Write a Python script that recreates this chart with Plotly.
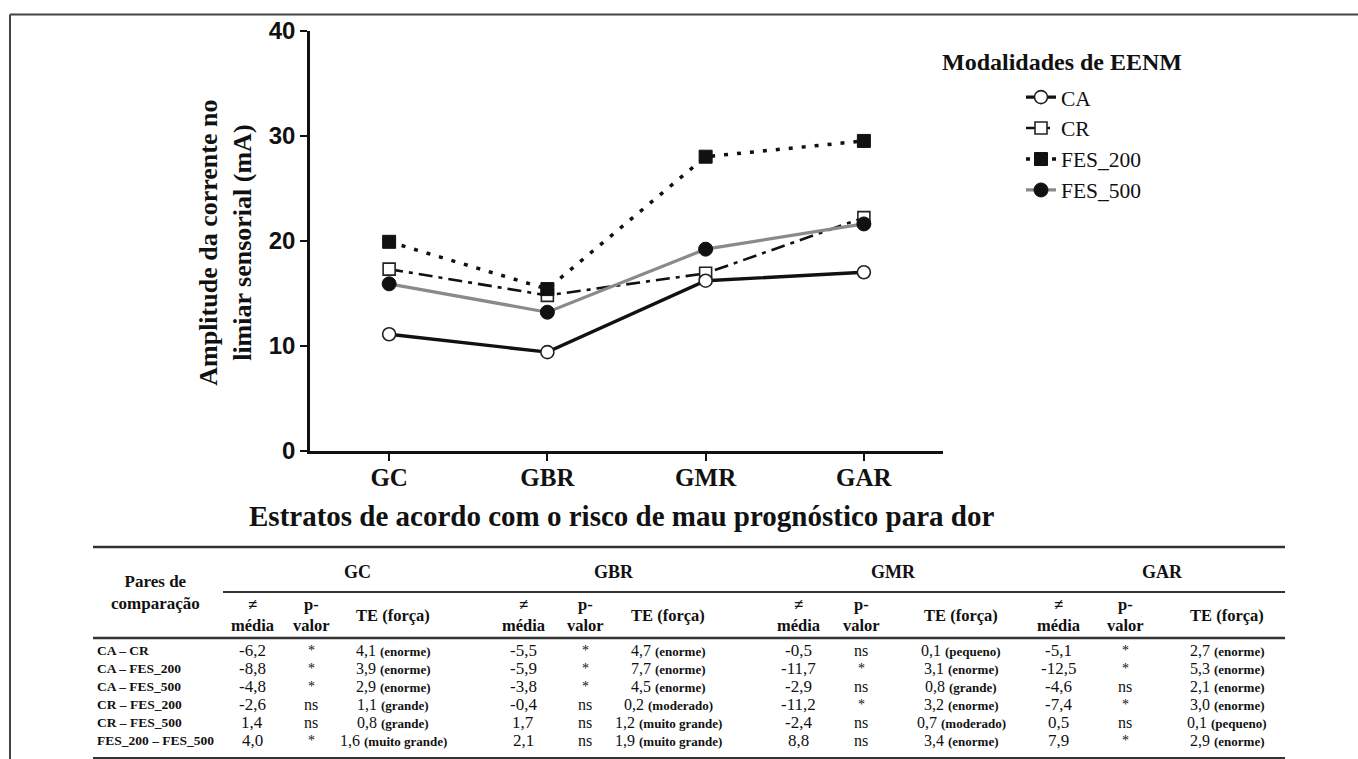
import plotly.graph_objects as go

W, H = 1358, 786

# ---------------- chart data ----------------
categories = ["GC", "GBR", "GMR", "GAR"]
ca_values = [11.1, 9.4, 16.2, 17.0]
cr_values = [17.3, 14.8, 16.9, 22.2]
fes200_values = [19.9, 15.4, 28.0, 29.5]
fes500_values = [15.9, 13.2, 19.2, 21.6]
y_ticks = [0, 10, 20, 30, 40]

# ---------------- table data ----------------
pairs = ["CA – CR", "CA – FES_200", "CA – FES_500", "CR – FES_200", "CR – FES_500", "FES_200 – FES_500"]
groups = ["GC", "GBR", "GMR", "GAR"]
diff_GC = ["-6,2", "-8,8", "-4,8", "-2,6", "1,4", "4,0"]
p_GC = ["*", "*", "*", "ns", "ns", "*"]
te_GC = ["4,1", "3,9", "2,9", "1,1", "0,8", "1,6"]
force_GC = ["enorme", "enorme", "enorme", "grande", "grande", "muito grande"]
diff_GBR = ["-5,5", "-5,9", "-3,8", "-0,4", "1,7", "2,1"]
p_GBR = ["*", "*", "*", "ns", "ns", "ns"]
te_GBR = ["4,7", "7,7", "4,5", "0,2", "1,2", "1,9"]
force_GBR = ["enorme", "enorme", "enorme", "moderado", "muito grande", "muito grande"]
diff_GMR = ["-0,5", "-11,7", "-2,9", "-11,2", "-2,4", "8,8"]
p_GMR = ["ns", "*", "ns", "*", "ns", "ns"]
te_GMR = ["0,1", "3,1", "0,8", "3,2", "0,7", "3,4"]
force_GMR = ["pequeno", "enorme", "grande", "enorme", "moderado", "enorme"]
diff_GAR = ["-5,1", "-12,5", "-4,6", "-7,4", "0,5", "7,9"]
p_GAR = ["*", "*", "ns", "*", "ns", "*"]
te_GAR = ["2,7", "5,3", "2,1", "3,0", "0,1", "2,9"]
force_GAR = ["enorme", "enorme", "enorme", "enorme", "pequeno", "enorme"]

table_cols = {
    "GC": (diff_GC, p_GC, te_GC, force_GC),
    "GBR": (diff_GBR, p_GBR, te_GBR, force_GBR),
    "GMR": (diff_GMR, p_GMR, te_GMR, force_GMR),
    "GAR": (diff_GAR, p_GAR, te_GAR, force_GAR),
}

SERIF = "Liberation Serif, Times New Roman, serif"
SANS = "Liberation Sans, Arial, sans-serif"

# the photographed page maps page row d to picture row 13.4 + 0.965 * d
OFF, SC = 13.4, 0.965


def px(x):
    return x / W


def py(r):
    d = max((r - OFF) / SC, 0.5)
    return 1 - d / H


fig = go.Figure()

fig.add_trace(go.Scatter(
    x=categories, y=cr_values, name="CR", mode="lines+markers",
    line=dict(color="#111111", width=2.6, dash="14px,6px,4px,6px"),
    marker=dict(symbol="square", size=12, color="white", line=dict(color="#222222", width=1.6)),
    legendrank=2))
fig.add_trace(go.Scatter(
    x=categories, y=fes200_values, name="FES_200", mode="lines+markers",
    line=dict(color="#111111", width=3.5, dash="4px,9px"),
    marker=dict(symbol="square", size=13, color="#111111", line=dict(color="#111111", width=1)),
    legendrank=3))
fig.add_trace(go.Scatter(
    x=categories, y=fes500_values, name="FES_500", mode="lines+markers",
    line=dict(color="#8a8a8a", width=3.2),
    marker=dict(symbol="circle", size=14, color="#111111", line=dict(color="#111111", width=1)),
    legendrank=4))
fig.add_trace(go.Scatter(
    x=categories, y=ca_values, name="CA", mode="lines+markers",
    line=dict(color="#111111", width=3.4),
    marker=dict(symbol="circle", size=13, color="white", line=dict(color="#222222", width=1.6)),
    legendrank=1))

annotations = []

# axis titles
annotations.append(dict(
    x=px(226), y=py(242), xref="paper", yref="paper", showarrow=False,
    text="Amplitude da corrente no<br>limiar sensorial (mA)", textangle=-90,
    font=dict(family=SERIF, size=26, color="#111111", weight="bold"),
    xanchor="center", yanchor="middle"))
annotations.append(dict(
    x=px(621), y=py(515.5), xref="paper", yref="paper", showarrow=False,
    text="Estratos de acordo com o risco de mau prognóstico para dor",
    font=dict(family=SERIF, size=29, color="#111111", weight="bold"),
    xanchor="center", yanchor="middle"))
# legend title
annotations.append(dict(
    x=px(940), y=py(61), xref="paper", yref="paper", showarrow=False,
    text="Modalidades de EENM",
    font=dict(family=SERIF, size=24, color="#111111", weight="bold"),
    xanchor="left", yanchor="middle"))

# ---------------- table ----------------
def cell(x, y, text, size=15, bold=False, anchor="center"):
    annotations.append(dict(
        x=px(x), y=py(y), xref="paper", yref="paper", showarrow=False, text=text,
        font=dict(family=SERIF, size=size, color="#111111", weight="bold" if bold else "normal"),
        xanchor=anchor, yanchor="middle"))

cell(155, 591.5, "Pares de<br>comparação", 17, True)

group_header_x = {"GC": 357, "GBR": 614, "GMR": 893, "GAR": 1162}
col_x = {"GC": (252, 311, 393), "GBR": (523, 585, 668),
         "GMR": (798, 861, 961), "GAR": (1058, 1125, 1227)}
row_y = [649, 667, 685, 703, 721, 739]

for g in groups:
    cell(group_header_x[g], 571, g, 18, True)
    xm, xp, xt = col_x[g]
    cell(xm, 614, "≠<br>média", 16.5, True)
    cell(xp, 614, "p-<br>valor", 16.5, True)
    cell(xt, 614, "TE (força)", 16.5, True)
    diffs, ps, tes, forces = table_cols[g]
    for i, ry in enumerate(row_y):
        cell(xm, ry, diffs[i], 17)
        cell(xp, ry, ps[i], 14 if ps[i] == "*" else 16)
        cell(xt, ry, f"{tes[i]} <b><span style='font-size:13px'>({forces[i]})</span></b>", 16)

for i, ry in enumerate(row_y):
    cell(95, ry, pairs[i], 13.5, True, anchor="left")

shapes = []
def hline(x0, x1, y, w=2, color="#333333"):
    shapes.append(dict(type="line", xref="paper", yref="paper",
                       x0=px(x0), x1=px(x1), y0=py(y), y1=py(y),
                       line=dict(color=color, width=w)))

hline(93, 1285, 546, 2.5)
hline(223, 1285, 591, 2)
hline(93, 1285, 637, 2.5)
hline(93, 1285, 757, 2)

# figure frame (top and left)
hline(10, W, 11, 2, "#444444")
shapes.append(dict(type="line", xref="paper", yref="paper",
                   x0=px(10), x1=px(10), y0=py(11), y1=0,
                   line=dict(color="#444444", width=2)))

fig.update_layout(
    width=W, height=H,
    margin=dict(l=0, r=0, t=0, b=0),
    paper_bgcolor="white", plot_bgcolor="white",
    showlegend=True,
    legend=dict(x=px(1021), y=py(76), xanchor="left", yanchor="top",
                font=dict(family=SERIF, size=21.5, color="#111111"),
                itemwidth=30, bgcolor="rgba(0,0,0,0)", traceorder="normal",
                tracegroupgap=0),
    xaxis=dict(domain=[px(310), px(943)], type="category", range=[-0.5, 3.5],
               showline=True, linecolor="#111111", linewidth=2.5,
               ticks="outside", ticklen=7, tickwidth=2, tickcolor="#111111",
               showgrid=False, zeroline=False, ticklabelstandoff=-5,
               tickfont=dict(family=SERIF, size=25, color="#111111", weight="bold")),
    yaxis=dict(domain=[py(450), py(30)], range=[0, 40], tickvals=y_ticks,
               showline=True, linecolor="#111111", linewidth=2.5,
               ticks="outside", ticklen=7, tickwidth=2, tickcolor="#111111",
               showgrid=False, zeroline=False,
               tickfont=dict(family="Liberation Sans Narrow, " + SANS, size=24,
                             color="#111111", weight="bold")),
    annotations=annotations,
    shapes=shapes,
)

post = (
    "document.documentElement.style.margin='0';"
    "document.documentElement.style.overflow='hidden';"
    "document.body.style.margin='0';"
    "document.body.style.overflow='hidden';"
    "var gd=document.getElementById('{plot_id}');"
    "gd.style.position='fixed';gd.style.left='0px';gd.style.top='0px';"
)

fig.write_html("out.html", config={"displayModeBar": False}, post_script=post)
